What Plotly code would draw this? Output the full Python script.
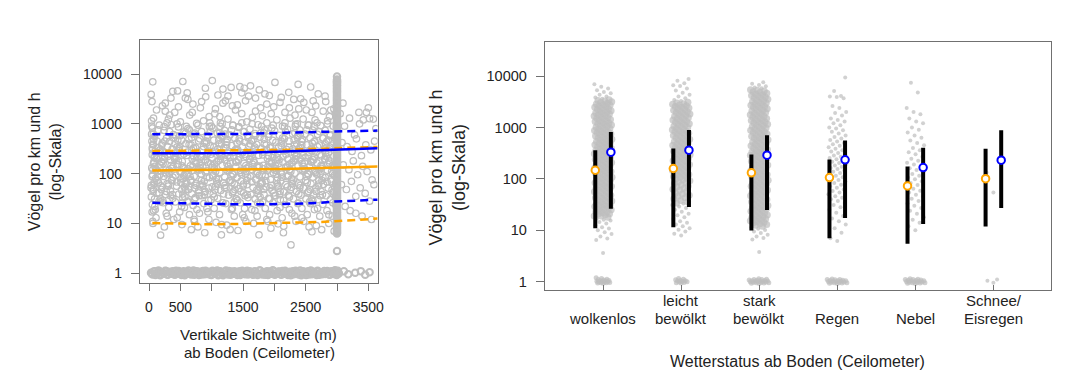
import plotly.graph_objects as go

# ---------------------------------------------------------------
# Left panel: birds per km and hour vs. vertical visibility
# (visibility in m, birds per km and h)
# ---------------------------------------------------------------
wolke = [
    # 30-200 m
    (35, 3900), (48, 2800), (60, 7000), (72, 1300), (41, 1150), (55, 820), (88, 560), (130, 450), (66, 390), (150, 330),
    (95, 280), (52, 240), (118, 200), (77, 170), (175, 150), (44, 130), (140, 110), (58, 95), (105, 80), (82, 68),
    (190, 57), (69, 48), (125, 40), (38, 34), (160, 28), (92, 22), (50, 17), (112, 13), (63, 10), (185, 5.8),
    (45, 900), (70, 620), (56, 300), (85, 210), (62, 120), (50, 88), (78, 62), (66, 44), (90, 31), (54, 24),
    (74, 18), (60, 11), (47, 450), (81, 160),
    # 200-400 m
    (215, 2300), (260, 1800), (310, 1250), (355, 960), (240, 740), (390, 610), (280, 520), (330, 445), (205, 375), (370, 310),
    (250, 262), (300, 220), (345, 188), (225, 160), (385, 138), (270, 118), (320, 102), (235, 88), (360, 74), (290, 63),
    (210, 53), (340, 45), (265, 38), (380, 32), (230, 26), (315, 21), (275, 16), (395, 12), (245, 8.5), (350, 3300),
    # 400-600 m
    (540, 7100), (455, 4600), (580, 3300), (410, 1700), (500, 1100), (470, 870), (560, 690), (430, 575), (520, 470), (590, 400),
    (445, 342), (485, 290), (555, 247), (415, 210), (530, 176), (465, 150), (575, 127), (495, 108), (425, 92), (545, 79),
    (510, 66), (440, 56), (585, 47), (475, 39), (535, 33), (420, 27), (565, 21), (490, 17), (450, 13), (525, 9.5),
    # 600-800 m
    (610, 4200), (700, 2500), (650, 1500), (760, 1020), (620, 800), (730, 650), (680, 530), (790, 455), (640, 385), (710, 325),
    (770, 272), (605, 232), (690, 196), (745, 168), (660, 143), (780, 121), (625, 104), (720, 88), (670, 75), (755, 64),
    (635, 54), (795, 46), (685, 39), (740, 33), (615, 28), (705, 23), (765, 19), (645, 15), (725, 11), (675, 7.5),
    # 800-1000 m
    (905, 3500), (820, 2100), (960, 1400), (870, 1150), (995, 900), (840, 700), (930, 590), (810, 500), (885, 420), (975, 360),
    (850, 305), (940, 258), (825, 218), (900, 186), (985, 158), (860, 134), (920, 114), (835, 97), (965, 83), (880, 70),
    (815, 60), (950, 51), (895, 43), (845, 36), (990, 30), (875, 25), (925, 20), (805, 16), (955, 12), (890, 6.5),
    # 1000-1200 m
    (1010, 7400), (1100, 3800), (1180, 2600), (1050, 1600), (1140, 1050), (1020, 820), (1090, 650), (1160, 560), (1035, 470), (1120, 395),
    (1195, 335), (1065, 282), (1150, 240), (1005, 204), (1080, 172), (1170, 147), (1045, 125), (1130, 106), (1015, 90), (1110, 77),
    (1185, 65), (1060, 55), (1145, 46), (1025, 39), (1095, 32), (1175, 26), (1040, 20), (1125, 15), (1070, 10.5), (1155, 5.9),
    # 1200-1400 m
    (1310, 5400), (1220, 2900), (1380, 1900), (1260, 1250), (1340, 930), (1205, 740), (1290, 600), (1370, 510), (1235, 430), (1320, 365),
    (1395, 310), (1250, 262), (1355, 222), (1215, 190), (1300, 162), (1385, 138), (1245, 117), (1330, 100), (1210, 85), (1280, 72),
    (1365, 61), (1230, 52), (1345, 44), (1270, 37), (1390, 31), (1225, 25), (1315, 19), (1360, 14), (1240, 9.2), (1295, 7.5),
    # 1400-1600 m
    (1450, 5600), (1520, 5200), (1590, 3600), (1410, 2400), (1480, 1600), (1560, 1100), (1430, 850), (1505, 700), (1575, 590), (1440, 500),
    (1530, 425), (1595, 360), (1415, 305), (1490, 260), (1550, 220), (1425, 188), (1515, 160), (1585, 136), (1460, 116), (1540, 99),
    (1405, 84), (1470, 71), (1565, 60), (1435, 50), (1510, 41), (1580, 33), (1455, 26), (1525, 20), (1495, 15), (1545, 11),
    # 1600-1800 m
    (1620, 5800), (1700, 3300), (1780, 2100), (1650, 1350), (1740, 960), (1610, 780), (1690, 640), (1770, 540), (1635, 455), (1720, 385),
    (1795, 325), (1665, 275), (1750, 232), (1605, 197), (1680, 167), (1760, 142), (1645, 121), (1730, 103), (1615, 88), (1710, 75),
    (1785, 63), (1660, 53), (1745, 45), (1625, 38), (1695, 31), (1775, 25), (1640, 19), (1725, 14), (1670, 10), (1755, 5.9),
    # 1800-2000 m
    (1850, 4000), (1920, 3700), (1990, 2200), (1810, 1450), (1880, 1050), (1960, 820), (1830, 660), (1905, 550), (1975, 465), (1840, 395),
    (1930, 333), (1995, 282), (1815, 238), (1890, 202), (1950, 171), (1825, 146), (1915, 124), (1985, 105), (1860, 90), (1940, 76),
    (1805, 64), (1870, 54), (1965, 46), (1835, 38), (1910, 32), (1980, 26), (1855, 20), (1925, 15), (1895, 11), (1945, 8),
    # 2000-2200 m
    (2010, 6800), (2090, 2700), (2170, 1700), (2040, 1200), (2130, 900), (2005, 720), (2080, 590), (2160, 500), (2025, 425), (2110, 362),
    (2195, 306), (2055, 260), (2140, 220), (2015, 187), (2070, 159), (2180, 135), (2035, 115), (2120, 98), (2050, 83), (2100, 71),
    (2185, 60), (2065, 51), (2150, 43), (2020, 36), (2095, 30), (2175, 24), (2045, 18), (2125, 13), (2060, 9.8), (2145, 6.5),
    # 2200-2400 m
    (2230, 4300), (2310, 3100), (2390, 2000), (2250, 1300), (2340, 980), (2210, 780), (2290, 630), (2370, 530), (2235, 450), (2320, 380),
    (2395, 322), (2260, 272), (2350, 230), (2215, 196), (2280, 166), (2380, 141), (2245, 120), (2330, 102), (2205, 87), (2300, 74),
    (2385, 62), (2270, 53), (2355, 44), (2225, 37), (2305, 31), (2375, 25), (2240, 19), (2325, 14), (2265, 3.7), (2345, 11),
    # 2400-2600 m
    (2580, 5500), (2420, 3200), (2510, 1900), (2460, 1250), (2550, 940), (2405, 760), (2490, 620), (2570, 525), (2435, 445), (2520, 378),
    (2595, 320), (2455, 270), (2540, 229), (2415, 195), (2480, 165), (2560, 140), (2445, 119), (2530, 101), (2410, 86), (2500, 73),
    (2585, 62), (2465, 52), (2545, 44), (2425, 37), (2505, 31), (2575, 25), (2440, 20), (2525, 15), (2470, 11), (2555, 8.5),
    # 2600-2800 m
    (2620, 2900), (2700, 4000), (2780, 1800), (2650, 1200), (2740, 920), (2610, 750), (2690, 615), (2770, 520), (2635, 440), (2720, 374),
    (2795, 316), (2665, 268), (2750, 227), (2605, 193), (2680, 164), (2760, 139), (2645, 118), (2730, 100), (2615, 85), (2710, 72),
    (2785, 61), (2660, 52), (2745, 44), (2625, 37), (2695, 30), (2775, 24), (2640, 19), (2725, 14), (2670, 9), (2755, 7.5),
    # 2800-3000 m
    (2820, 2800), (2900, 1900), (2980, 1500), (2850, 1150), (2940, 900), (2810, 740), (2890, 610), (2970, 515), (2835, 438), (2920, 372),
    (2995, 315), (2865, 267), (2950, 226), (2805, 192), (2880, 163), (2960, 138), (2845, 117), (2930, 99), (2815, 84), (2910, 71),
    (2985, 60), (2860, 51), (2945, 43), (2825, 36), (2895, 30), (2975, 24), (2840, 18), (2925, 14), (2870, 10), (2955, 7),
    # above 3000 m
    (3050, 1600), (3120, 900), (3200, 1300), (3280, 600), (3350, 1700), (3420, 1200), (3500, 2100), (3580, 1250), (3620, 800), (3080, 420),
    (3160, 350), (3240, 280), (3310, 500), (3390, 230), (3460, 380), (3540, 300), (3600, 450), (3100, 150), (3190, 120), (3260, 180),
    (3330, 95), (3410, 140), (3480, 110), (3560, 75), (3070, 60), (3150, 48), (3230, 70), (3300, 35), (3370, 52), (3450, 40),
    (3520, 28), (3590, 60), (3130, 22), (3210, 18), (3400, 14), (3550, 12), (3095, 2600), (3470, 1700), (3520, 1270), (3360, 1000),
]

# the busy core of the cloud (roughly 25-1000 birds), per 200 m band
wolke_kern = [
    (42, 620), (197, 48), (118, 210), (170, 95), (65, 380), (185, 31), (93, 140), (145, 760), (38, 58), (182, 270),
    (104, 115), (158, 41), (76, 490), (195, 175), (127, 72), (52, 330), (189, 27), (83, 230), (138, 88), (165, 940),
    (110, 125), (33, 52), (176, 300), (71, 160), (151, 66),
    (212, 410), (367, 73), (288, 1050), (340, 36), (235, 190), (390, 520), (263, 105), (315, 62), (208, 285), (352, 145),
    (274, 44), (328, 700), (246, 215), (381, 85), (297, 350), (222, 29), (359, 128), (253, 450), (308, 56), (335, 245),
    (280, 98), (203, 170), (374, 38), (241, 880), (321, 118),
    (418, 255), (573, 34), (494, 580), (546, 132), (441, 68), (596, 890), (469, 182), (521, 47), (414, 395), (558, 92),
    (480, 315), (534, 26), (452, 155), (587, 660), (503, 78), (428, 222), (565, 54), (459, 470), (514, 110), (541, 39),
    (486, 340), (409, 198), (580, 63), (447, 1000), (527, 143),
    (603, 66), (758, 160), (679, 300), (731, 52), (626, 125), (781, 940), (654, 88), (706, 230), (612, 27), (743, 330),
    (665, 72), (719, 175), (637, 490), (792, 41), (688, 115), (613, 270), (750, 58), (644, 760), (699, 140), (726, 31),
    (671, 380), (604, 95), (765, 210), (632, 48), (712, 620),
    (808, 118), (963, 880), (884, 38), (936, 170), (831, 98), (986, 245), (859, 56), (911, 450), (817, 128), (948, 29),
    (870, 350), (924, 85), (842, 215), (977, 700), (893, 44), (818, 145), (955, 285), (849, 62), (904, 105), (931, 520),
    (876, 190), (801, 36), (970, 1050), (837, 73), (917, 410),
    (1012, 143), (1167, 1000), (1088, 63), (1140, 198), (1035, 340), (1190, 39), (1063, 110), (1115, 470), (1008, 54), (1152, 222),
    (1074, 78), (1128, 660), (1046, 155), (1181, 26), (1097, 315), (1022, 92), (1159, 395), (1053, 47), (1108, 182), (1135, 890),
    (1080, 68), (1003, 132), (1174, 580), (1041, 34), (1121, 255),
    (1215, 620), (1370, 48), (1291, 210), (1343, 95), (1238, 380), (1393, 31), (1266, 140), (1318, 760), (1211, 58), (1355, 270),
    (1277, 115), (1331, 41), (1249, 490), (1384, 175), (1300, 72), (1225, 330), (1362, 27), (1256, 230), (1311, 88), (1338, 940),
    (1283, 125), (1206, 52), (1377, 300), (1244, 160), (1324, 66),
    (1405, 410), (1560, 73), (1481, 1050), (1533, 36), (1428, 190), (1583, 520), (1456, 105), (1508, 62), (1401, 285), (1545, 145),
    (1467, 44), (1521, 700), (1439, 215), (1574, 85), (1490, 350), (1415, 29), (1552, 128), (1446, 450), (1501, 56), (1528, 245),
    (1473, 98), (1396, 170), (1567, 38), (1434, 880), (1514, 118),
    (1618, 255), (1773, 34), (1694, 580), (1746, 132), (1641, 68), (1796, 890), (1669, 182), (1721, 47), (1614, 395), (1758, 92),
    (1680, 315), (1734, 26), (1652, 155), (1787, 660), (1703, 78), (1628, 222), (1765, 54), (1659, 470), (1714, 110), (1741, 39),
    (1686, 340), (1609, 198), (1780, 63), (1647, 1000), (1727, 143),
    (1803, 66), (1958, 160), (1879, 300), (1931, 52), (1826, 125), (1981, 940), (1854, 88), (1906, 230), (1812, 27), (1943, 330),
    (1865, 72), (1919, 175), (1837, 490), (1992, 41), (1888, 115), (1813, 270), (1950, 58), (1844, 760), (1899, 140), (1926, 31),
    (1871, 380), (1804, 95), (1965, 210), (1832, 48), (1912, 620),
    (2008, 118), (2163, 880), (2084, 38), (2136, 170), (2031, 98), (2186, 245), (2059, 56), (2111, 450), (2017, 128), (2148, 29),
    (2070, 350), (2124, 85), (2042, 215), (2177, 700), (2093, 44), (2018, 145), (2155, 285), (2049, 62), (2104, 105), (2131, 520),
    (2076, 190), (2001, 36), (2170, 1050), (2037, 73), (2117, 410),
    (2212, 143), (2367, 1000), (2288, 63), (2340, 198), (2235, 340), (2390, 39), (2263, 110), (2315, 470), (2208, 54), (2352, 222),
    (2274, 78), (2328, 660), (2246, 155), (2381, 26), (2297, 315), (2222, 92), (2359, 395), (2253, 47), (2308, 182), (2335, 890),
    (2280, 68), (2203, 132), (2374, 580), (2241, 34), (2321, 255),
    (2415, 620), (2570, 48), (2491, 210), (2543, 95), (2438, 380), (2593, 31), (2466, 140), (2518, 760), (2411, 58), (2555, 270),
    (2477, 115), (2531, 41), (2449, 490), (2584, 175), (2500, 72), (2425, 330), (2562, 27), (2456, 230), (2511, 88), (2538, 940),
    (2483, 125), (2406, 52), (2577, 300), (2444, 160), (2524, 66),
    (2605, 410), (2760, 73), (2681, 1050), (2733, 36), (2628, 190), (2783, 520), (2656, 105), (2708, 62), (2601, 285), (2745, 145),
    (2667, 44), (2721, 700), (2639, 215), (2774, 85), (2690, 350), (2615, 29), (2752, 128), (2646, 450), (2701, 56), (2728, 245),
    (2673, 98), (2596, 170), (2767, 38), (2634, 880), (2714, 118),
    (2818, 255), (2973, 34), (2894, 580), (2946, 132), (2841, 68), (2990, 890), (2869, 182), (2921, 47), (2814, 395), (2958, 92),
    (2880, 315), (2934, 26), (2852, 155), (2987, 660), (2903, 78), (2828, 222), (2965, 54), (2859, 470), (2914, 110), (2941, 39),
    (2886, 340), (2809, 198), (2980, 63), (2847, 1000), (2927, 143),
    # upper and lower fringe
    (120, 1900), (260, 2600), (330, 1500), (470, 2200), (620, 3100), (690, 1700), (840, 2800), (1060, 2000), (1130, 1400), (1260, 3600),
    (1330, 2300), (1480, 4200), (1540, 2900), (1700, 1800), (1760, 4800), (1880, 2500), (1950, 1600), (2110, 3400), (2240, 2100), (2330, 1500),
    (2470, 2700), (2600, 1700), (2660, 2300), (2810, 3600), (2880, 1400), (2950, 2000), (1180, 5000), (900, 5200), (380, 4500), (2380, 6200),
    (100, 19), (290, 14), (520, 22), (720, 12), (940, 17), (1160, 9.5), (1330, 20), (1520, 13), (1690, 18), (1880, 12),
    (2090, 21), (2280, 16), (2440, 13), (2690, 20), (2870, 15), (3300, 16), (780, 8.5), (1420, 7.2), (2150, 8.8), (2600, 6.8),
]

# ceilometer reports "no cloud base" as 3000 m
saeule_m = 3000
saeule_voegel = [
    8900, 7800, 7400, 7100, 6900, 6600, 6300, 6000, 5800, 5500, 5200, 4950, 4700, 4500, 4300, 4100, 3900, 3700,
    3500, 3350, 3200, 3050, 2900, 2750, 2600, 2480, 2350, 2250, 2150, 2050, 1950, 1850, 1750, 1680, 1600, 1520,
    1450, 1380, 1300, 1240, 1180, 1120, 1070, 1020, 970, 925, 880, 840, 800, 760, 720, 685, 650, 620, 590, 560,
    535, 510, 485, 462, 440, 420, 400, 380, 360, 342, 325, 310, 295, 280, 265, 252, 240, 229, 218, 207, 197, 187,
    178, 170, 161, 153, 146, 139, 132, 126, 120, 114, 108, 103, 98, 93, 89, 85, 80, 76, 72, 69, 65, 62, 59, 56,
    53, 50, 48, 46, 43, 41, 39, 37, 35, 33.5, 32, 30.5, 29, 27.5, 26, 24.8, 23.5, 22.3, 21, 20, 19, 18, 17, 16.3,
    15.5, 14.7, 14, 13.2, 12.5, 11.9, 11.3, 10.7, 10.2, 9.7, 9.2, 8.7, 8.3, 7.9, 7.5, 7.1, 6.8, 6.5, 6.3, 2.8,
]

# hours without birds, drawn at 1 on the log scale
null_reihe = [
    (32, 1.02), (58, 0.94), (91, 1.09), (118, 0.97), (152, 1.13), (179, 0.91), (214, 1.05), (243, 0.99), (276, 1.11), (301, 0.93),
    (338, 1.07), (366, 1.0), (397, 0.95), (431, 1.12), (458, 0.98), (492, 1.04), (519, 0.92), (553, 1.1), (587, 0.96), (612, 1.06),
    (648, 1.01), (671, 0.94), (709, 1.13), (736, 0.97), (768, 1.08), (797, 0.92), (826, 1.03), (861, 1.11), (889, 0.95), (917, 1.0),
    (953, 1.07), (981, 0.93), (1012, 1.12), (1046, 0.98), (1073, 1.05), (1104, 0.91), (1139, 1.09), (1166, 1.0), (1198, 0.96), (1227, 1.13),
    (1261, 0.94), (1289, 1.04), (1318, 1.08), (1352, 0.97), (1379, 1.01), (1411, 0.92), (1443, 1.1), (1470, 0.99), (1503, 1.06), (1532, 0.95),
    (1566, 1.12), (1594, 0.98), (1621, 1.03), (1657, 0.93), (1685, 1.09), (1716, 1.0), (1748, 0.96), (1775, 1.13), (1808, 0.94), (1836, 1.05),
    (1867, 1.01), (1899, 0.92), (1927, 1.08), (1958, 0.97), (1991, 1.11), (2019, 0.95), (2052, 1.02), (2079, 1.07), (2113, 0.93), (2141, 1.0),
    (2172, 1.12), (2204, 0.96), (2233, 1.04), (2262, 0.91), (2296, 1.09), (2324, 0.99), (2355, 1.06), (2387, 0.94), (2413, 1.13), (2446, 0.98),
    (2478, 1.03), (2507, 0.92), (2539, 1.1), (2566, 1.0), (2598, 0.95), (2627, 1.07), (2661, 0.97), (2689, 1.12), (2718, 0.93), (2751, 1.05),
    (2779, 1.01), (2812, 0.96), (2843, 1.11), (2871, 0.94), (2904, 1.08), (2936, 0.99), (2968, 1.14), (2995, 0.92), (3005, 1.06), (3020, 0.97),
    (3110, 1.09), (3180, 0.95), (3290, 1.02), (3380, 1.1), (3450, 0.93), (3520, 1.04),
    (45, 0.97), (74, 1.08), (104, 0.92), (135, 1.03), (166, 1.1), (197, 0.95), (228, 1.0), (259, 1.12), (289, 0.94), (320, 1.05),
    (352, 0.98), (381, 1.09), (414, 0.93), (445, 1.02), (475, 1.11), (506, 0.96), (536, 1.06), (570, 0.91), (600, 1.0), (630, 1.13),
    (660, 0.97), (690, 1.04), (722, 0.93), (752, 1.1), (782, 0.99), (812, 1.07), (843, 0.94), (875, 1.02), (903, 1.12), (935, 0.96),
    (967, 1.05), (996, 0.92), (1029, 1.08), (1059, 0.99), (1088, 1.13), (1121, 0.95), (1152, 1.03), (1182, 0.91), (1212, 1.07), (1244, 0.98),
    (1275, 1.11), (1303, 0.93), (1335, 1.01), (1365, 1.09), (1395, 0.96), (1427, 1.04), (1456, 0.92), (1487, 1.12), (1518, 0.98), (1549, 1.06),
    (1580, 0.94), (1608, 1.1), (1639, 1.0), (1671, 0.95), (1700, 1.07), (1732, 0.92), (1761, 1.13), (1791, 0.99), (1822, 1.03), (1852, 0.93),
    (1883, 1.1), (1913, 0.97), (1943, 1.05), (1975, 1.14), (2005, 0.93), (2035, 1.0), (2066, 1.08), (2096, 0.95), (2127, 1.11), (2157, 0.98),
    (2188, 1.04), (2218, 0.92), (2248, 1.07), (2279, 1.0), (2310, 0.95), (2340, 1.12), (2371, 0.97), (2400, 1.03), (2430, 0.91), (2462, 1.09),
    (2493, 0.99), (2523, 1.05), (2552, 0.94), (2582, 1.13), (2612, 0.97), (2644, 1.02), (2675, 0.92), (2704, 1.08), (2734, 1.0), (2765, 0.95),
    (2796, 1.11), (2827, 0.98), (2857, 1.04), (2888, 0.93), (2920, 1.1), (2952, 0.96), (2982, 1.03), (3000, 0.95), (3012, 1.12), (3030, 1.0),
]

# model curves over visibility
kurve_m = [53, 1000, 1450, 2150, 2750, 2960, 3650]
blau_mittel = [258, 258, 260, 278, 292, 305, 325]
blau_oben = [620, 620, 625, 665, 700, 710, 735]
blau_unten = [26, 24.2, 24.2, 24.5, 26, 27.5, 30]
orange_mittel = [116, 118, 120, 124, 130, 132, 139]
orange_oben = [285, 288, 290, 300, 318, 325, 345]
orange_unten = [10.2, 9.6, 9.8, 10.1, 10.7, 11.1, 12.5]

# ---------------------------------------------------------------
# Right panel: birds per km and hour by weather status
# ---------------------------------------------------------------
kategorien = ["wolkenlos", "leicht<br>bewölkt", "stark<br>bewölkt", "Regen", "Nebel", "Schnee/<br>Eisregen"]

wolkenlos_v = [
    6900, 6200, 5700, 5300, 4900, 4600, 4300, 4000, 3800, 3600,
    18, 19, 19, 20, 21, 21, 22, 23, 23, 24, 25, 26, 26, 27, 28, 29, 30, 31, 31, 32,
    33, 35, 36, 37, 38, 39, 41, 42, 43, 45, 46, 48, 49, 51, 53, 54, 56, 58, 60, 62,
    64, 66, 68, 70, 72, 74, 77, 79, 82, 84, 87, 90, 93, 96, 99, 102, 105, 108, 112, 115,
    119, 123, 127, 131, 135, 139, 143, 148, 152, 157, 162, 167, 172, 178, 183, 189, 195, 201, 207, 214,
    220, 227, 234, 241, 249, 257, 265, 273, 281, 290, 299, 308, 318, 328, 338, 348, 359, 370, 382, 394,
    406, 418, 431, 445, 459, 473, 488, 503, 518, 534, 551, 568, 586, 604, 623, 642, 662, 683, 704, 726,
    748, 771, 795, 820, 845, 872, 899, 927, 955, 985, 1020, 1050, 1080, 1110, 1150, 1180, 1220, 1260, 1300, 1340,
    1380, 1420, 1470, 1510, 1560, 1610, 1660, 1710, 1760, 1820, 1870, 1930, 1990, 2050, 2120, 2180, 2250, 2320, 2390, 2470,
    2540, 2620, 2700, 2790, 2870, 2960, 3050, 3150, 3250, 3350, 3450,
    17, 16, 15.5, 14.5, 13.5, 12.5, 11.5, 10.8, 10, 9.2, 8.5, 7.6, 6.9, 6.5, 3.6,
]
leicht_v = [
    8700, 8100, 7200, 6600, 6400, 5700, 5200, 4700, 4300, 4000, 3700, 3400, 3250,
    34, 36, 38, 41, 43, 46, 48, 51, 53, 57, 60, 63, 66, 70, 73, 77, 81, 85, 88, 92,
    96, 100, 104, 107, 111, 115, 118, 122, 127, 131, 136, 140, 145, 150, 156, 161, 166, 172, 178, 184,
    190, 196, 203, 210, 217, 224, 232, 240, 248, 256, 265, 274, 283, 293, 302, 313, 323, 334, 346, 357,
    369, 382, 395, 408, 422, 436, 451, 466, 482, 498, 515, 532, 550, 569, 588, 608, 628, 650, 672, 694,
    718, 742, 767, 793, 820, 848, 876, 906, 937, 968, 1000, 1040, 1070, 1110, 1140, 1180, 1220, 1260, 1310, 1350,
    1400, 1440, 1490, 1540, 1600, 1650, 1710, 1760, 1820, 1880, 1950, 2010, 2080, 2150, 2230, 2300, 2380, 2460, 2540, 2630,
    2720, 2810, 2900, 3000, 3100,
    33, 31, 29, 27, 25, 23, 21, 19.5, 18, 16.5, 15, 14, 13, 12, 11, 10.2, 9.5, 8.6, 7.9,
]
stark_v = [
    7600, 7100, 6700, 6300, 6000, 5800,
    12, 12.5, 13, 13.4, 13.8, 14.3, 14.8, 15.3, 15.8, 16.3, 16.8, 17.4, 18, 18.6, 19.2, 19.8, 20.5, 21.2, 21.9, 22.6,
    23.4, 24.2, 25, 25.8, 26.7, 27.6, 28.5, 29.5, 30.5, 31.5, 32.6, 33.7, 34.8, 36, 37.2, 38.4, 39.7, 41, 42.4, 43.8,
    45.3, 46.8, 48.4, 50, 51.7, 53.4, 55.2, 57.1, 59, 61, 63, 65, 67, 70, 72, 74, 77, 79, 82, 85,
    88, 91, 94, 97, 100, 103, 107, 110, 114, 118, 122, 126, 130, 134, 139, 143, 148, 153, 158, 164,
    169, 175, 181, 187, 193, 200, 206, 213, 220, 228, 235, 243, 251, 260, 268, 277, 287, 296, 306, 317,
    327, 338, 350, 361, 373, 386, 399, 412, 426, 441, 455, 471, 487, 503, 520, 537, 555, 574, 593, 613,
    634, 655, 677, 700, 723, 748, 773, 799, 826, 853, 882, 912, 942, 974, 1010, 1040, 1080, 1110, 1150, 1190,
    1230, 1270, 1310, 1360, 1400, 1450, 1500, 1550, 1600, 1650, 1710, 1770, 1830, 1890, 1950, 2020, 2080, 2150, 2230, 2300,
    2380, 2460, 2540, 2630, 2710, 2800, 2900, 3000, 3100, 3200, 3310, 3420, 3540, 3650, 3780, 3900, 4040, 4170, 4310, 4460,
    4600, 4760, 4920, 5090, 5260, 5430,
    11.3, 10.7, 10.1, 9.5, 8.9, 8.2, 7.6, 7.1, 6.6, 3.8,
]
regen_v = [
    9300, 5100, 4100, 4000, 3900, 3700, 2600, 2400, 2000, 1900, 1700, 1500, 1400, 1300, 1200, 1100, 1000, 950,
    880, 820, 760, 700, 650, 610, 570, 530, 500, 470, 440, 410, 385, 360, 340, 320, 300, 285, 270, 255,
    240, 228, 215, 203, 192, 182, 172, 163, 155, 146, 138, 130, 122, 115, 108, 101, 95, 89, 83, 77,
    72, 67, 62, 58, 54, 50, 46, 43, 40, 37, 34, 31, 28, 25, 22, 19, 17, 15, 13, 11, 9, 7, 6.2,
]
nebel_v = [
    7400, 4800, 2400, 2000, 1800, 1500, 1300, 1200, 1000, 900, 800, 700, 630, 560, 500, 450, 400, 360,
    330, 300, 270, 245, 225, 205, 190, 175, 160, 148, 136, 125, 115, 106, 98, 90, 83, 76, 70, 64,
    59, 54, 49, 45, 41, 37, 33, 30, 27, 24, 21, 18, 16, 14, 12, 10,
]
schnee_v = [133, 54]

# hours without birds per category, drawn at 1
eins_v = [
    [0.93, 1.05, 0.97, 1.12, 1.0, 0.95, 1.08, 1.02, 0.94, 1.15, 0.99, 1.06, 0.96, 1.1, 1.01, 1.04, 0.98, 1.2],
    [0.95, 1.06, 1.0, 1.12, 0.97, 1.03, 1.09, 0.94, 1.01, 1.15, 0.99, 1.05],
    [0.92, 1.04, 0.97, 1.11, 1.0, 0.95, 1.08, 1.02, 0.93, 1.14, 0.99, 1.06, 0.96, 1.1, 1.01, 1.05, 0.98, 1.12, 0.94, 1.07, 1.0, 1.03],
    [0.93, 1.03, 0.96, 1.1, 1.0, 0.94, 1.07, 1.02, 0.92, 1.13, 0.98, 1.05, 0.97, 1.09, 1.01, 1.04, 0.95, 1.11, 0.99, 1.06],
    [0.92, 1.05, 0.97, 1.12, 1.0, 0.94, 1.08, 1.02, 0.93, 1.14, 0.99, 1.06, 0.96, 1.1, 1.01, 1.04, 0.98, 1.11, 0.95, 1.07],
    [1.1, 1.05, 0.95],
]

orange_mw = [147, 159, 131, 106, 73, 101]
orange_u = [11, 11.5, 9.9, 7.0, 5.5, 11.9]
orange_o = [362, 391, 298, 238, 174, 385]
blau_mw = [331, 362, 289, 235, 166, 231]
blau_u = [26.3, 28.4, 24.8, 17.3, 13.2, 27.2]
blau_o = [813, 889, 701, 560, 403, 878]

# ---------------------------------------------------------------
W, H = 1083, 376
GRAU = "#BEBEBE"
ORANGE = "#FFA500"
BLAU = "#0000FF"
ACHSE = "#707070"
TEXT = "#222222"
FONT = "Liberation Sans, Arial, sans-serif"


def streuung(n, halbbreite):
    """Evenly spread horizontal offsets (golden-ratio sequence) for a strip chart."""
    g = 0.6180339887
    return [halbbreite * (2 * ((k * g + 0.5) % 1.0) - 1) for k in range(n)]


fig = go.Figure()

# ---- left panel ----
kreis = dict(symbol="circle-open", size=6.5, color=GRAU, line=dict(width=1.2, color=GRAU))
kreis_dicht = dict(symbol="circle-open", size=6.5, color=GRAU, line=dict(width=2, color=GRAU))
alle = wolke + wolke_kern
fig.add_trace(go.Scatter(x=[p[0] for p in alle], y=[p[1] for p in alle], mode="markers",
                         marker=kreis, xaxis="x", yaxis="y", hoverinfo="skip"))
fig.add_trace(go.Scatter(x=[saeule_m] * len(saeule_voegel), y=saeule_voegel, mode="markers",
                         marker=kreis_dicht, xaxis="x", yaxis="y", hoverinfo="skip"))
fig.add_trace(go.Scatter(x=[p[0] for p in null_reihe], y=[p[1] for p in null_reihe], mode="markers",
                         marker=kreis_dicht, xaxis="x", yaxis="y", hoverinfo="skip"))

strich = "8px,5px"
for werte, farbe, dash in [
    (orange_oben, ORANGE, strich), (orange_unten, ORANGE, strich),
    (blau_oben, BLAU, strich), (blau_unten, BLAU, strich),
    (orange_mittel, ORANGE, "solid"), (blau_mittel, BLAU, "solid"),
]:
    fig.add_trace(go.Scatter(x=kurve_m, y=werte, mode="lines",
                             line=dict(color=farbe, width=2.5, dash=dash),
                             xaxis="x", yaxis="y", hoverinfo="skip"))

# ---- right panel ----
gruppen = [wolkenlos_v, leicht_v, stark_v, regen_v, nebel_v, schnee_v]
# value span in which a category's dots merge into a solid strip
dichter_bereich = [(18, 3500), (34, 3100), (12, 5500), None, None, None]
pkt_x, pkt_y, pkt_s = [], [], []
for i, werte in enumerate(gruppen, start=1):
    werte = sorted(werte)
    bereich = dichter_bereich[i - 1]
    for d, v in zip(streuung(len(werte), 0.115), werte):
        pkt_x.append(i + d)
        pkt_y.append(v)
        dicht = bereich is not None and bereich[0] <= v <= bereich[1]
        pkt_s.append(7 if dicht else 4)
eins_breite = [0.09, 0.08, 0.13, 0.13, 0.13, 0.1]
for i, werte in enumerate(eins_v, start=1):
    werte = sorted(werte)
    for d, v in zip(streuung(len(werte), eins_breite[i - 1]), werte):
        pkt_x.append(i + d)
        pkt_y.append(v)
        pkt_s.append(5 if i < 6 else 4)
fig.add_trace(go.Scatter(x=pkt_x, y=pkt_y, mode="markers",
                         marker=dict(symbol="circle", size=pkt_s, color=GRAU, line=dict(width=0)),
                         xaxis="x2", yaxis="y2", hoverinfo="skip"))

VERSATZ = 0.1


def balken(versatz, unten, oben):
    xs, ys = [], []
    for i, (u, o) in enumerate(zip(unten, oben), start=1):
        xs += [i + versatz, i + versatz, None]
        ys += [u, o, None]
    return xs, ys


for versatz, unten, oben, mitte, farbe in [
    (-VERSATZ, orange_u, orange_o, orange_mw, ORANGE),
    (VERSATZ, blau_u, blau_o, blau_mw, BLAU),
]:
    bx, by = balken(versatz, unten, oben)
    fig.add_trace(go.Scatter(x=bx, y=by, mode="lines", line=dict(color="black", width=4),
                             xaxis="x2", yaxis="y2", hoverinfo="skip"))
    fig.add_trace(go.Scatter(x=[i + versatz for i in range(1, len(mitte) + 1)], y=mitte, mode="markers",
                             marker=dict(symbol="circle", size=7.5, color="white",
                                         line=dict(color=farbe, width=2)),
                             xaxis="x2", yaxis="y2", hoverinfo="skip"))

# ---- axes ----
achse = dict(showline=True, mirror=True, linecolor=ACHSE, linewidth=1, showgrid=False, zeroline=False,
             ticks="outside", tickcolor=ACHSE, tickwidth=1,
             tickfont=dict(family=FONT, size=14, color=TEXT))

ywerte = [1, 10, 100, 1000, 10000]
fig.update_layout(
    width=W, height=H,
    margin=dict(l=0, r=0, t=0, b=0),
    paper_bgcolor="white", plot_bgcolor="white",
    showlegend=False,
    xaxis=dict(achse, domain=[140.7 / W, 380 / W], range=[-147, 3647], ticklen=7,
               tickvals=[0, 500, 1000, 1500, 2000, 2500, 3000, 3500],
               ticktext=["0", "500", "", "1500", "", "2500", "", "3500"], ticklabelstandoff=4,
               anchor="y"),
    yaxis=dict(achse, domain=[1 - 283 / H, 1 - 40 / H], type="log", range=[-0.197, 4.685], ticklen=8,
               tickvals=ywerte, ticktext=[str(v) for v in ywerte], ticklabelstandoff=6, anchor="x"),
    xaxis2=dict(achse, domain=[548.3 / W, 1058 / W], range=[0.253, 6.74], ticks="inside", ticklen=5,
                tickvals=list(range(1, 7)), showticklabels=False, anchor="y2"),
    yaxis2=dict(achse, domain=[1 - 290 / H, 1 - 41.7 / H], type="log", range=[-0.161, 4.667], ticklen=8,
                tickvals=ywerte, ticktext=[str(v) for v in ywerte], ticklabelstandoff=6,
                tickfont=dict(family=FONT, size=14.5, color=TEXT), anchor="x2"),
)


def notiz(x_px, y_px, text, size, winkel=0):
    fig.add_annotation(x=x_px / W, y=1 - y_px / H, xref="paper", yref="paper", text=text,
                       showarrow=False, textangle=winkel, xanchor="center", yanchor="middle",
                       font=dict(family=FONT, size=size, color=TEXT))


notiz(45, 161.5, "Vögel pro km und h<br>(log-Skala)", 16, -90)
notiz(450, 167.5, "Vögel pro km und h<br>(log-Skala)", 18, -90)
notiz(260, 334, "Vertikale Sichtweite (m)", 15)
notiz(261, 352, "ab Boden (Ceilometer)", 15)
notiz(803, 361.7, "Wetterstatus ab Boden (Ceilometer)", 16)

# category labels, bottom-aligned in two text rows
x0_px, dx_px = 606.7, (1000 - 606.7) / 5
for i, name in enumerate(kategorien):
    zeilen = name.split("<br>")
    for k, zeile in enumerate(reversed(zeilen)):
        notiz(x0_px + i * dx_px, 318 - 17.5 * k, zeile, 15)

fig.write_html("out.html")
